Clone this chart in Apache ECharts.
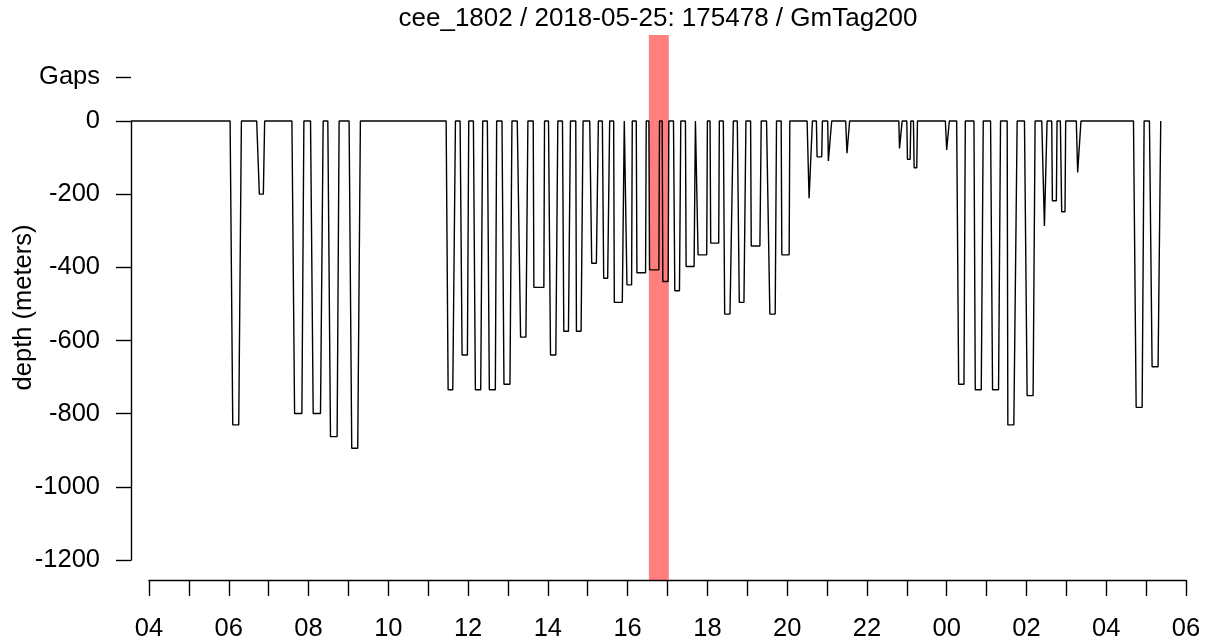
<!DOCTYPE html>
<html>
<head>
<meta charset="utf-8">
<script src="https://cdn.jsdelivr.net/npm/echarts@6/dist/echarts.min.js"></script>
<style>
html,body{margin:0;padding:0;background:#fff;}
#chart{width:1205px;height:644px;}
</style>
</head>
<body>
<div id="chart"></div>
<script>
// ---- data ----
const titleText = 'cee_1802 / 2018-05-25: 175478 / GmTag200';
const recordStart = '03:34';
const diveStart   = ['06:02','06:42','07:35','08:03','08:29','09:01','11:27','11:48','12:08','12:29','12:51','13:14','13:38','14:01','14:22','14:42','15:03','15:22','15:39','15:58','16:13','16:32','16:52','17:09','17:27','17:45','18:04','18:24','18:45','19:05','19:29','19:51','20:30','20:44','21:01','21:28','22:48','23:00','23:10','23:58','00:15','00:41','01:06','01:31','01:57','02:23','02:38','02:51','03:15','04:41','05:05'];
const bottomStart = ['06:06','06:46','07:39','08:07','08:33','09:05','11:30','11:51','12:11','12:32','12:54','13:19','13:39','14:04','14:24','14:43','15:06','15:24','15:40','15:59','16:14','16:33','16:53','17:11','17:28','17:46','18:05','18:26','18:48','19:06','19:34','19:52','20:33','20:45','21:02','21:30','22:49','23:01','23:11','00:00','00:18','00:43','01:09','01:32','02:01','02:27','02:39','02:53','03:17','04:45','05:09'];
const bottomEnd   = ['06:15','06:52','07:50','08:18','08:43','09:14','11:37','11:59','12:19','12:41','13:03','13:27','13:54','14:12','14:31','14:50','15:13','15:30','15:52','16:06','16:27','16:47','17:01','17:18','17:40','17:59','18:17','18:34','18:55','19:19','19:42','20:03','20:35','20:52','21:05','21:32','22:51','23:05','23:15','00:02','00:26','00:52','01:18','01:41','02:10','02:28','02:45','02:58','03:20','04:54','05:18'];
const diveEnd     = ['06:19','06:54','07:53','08:22','08:46','09:18','11:41','12:01','12:22','12:43','13:06','13:30','13:55','14:15','14:34','14:53','15:16','15:33','15:55','16:07','16:28','16:48','17:02','17:20','17:42','18:00','18:18','18:39','18:58','19:21','19:44','20:04','20:38','20:53','21:07','21:34','22:53','23:06','23:16','00:04','00:28','00:55','01:21','01:46','02:13','02:31','02:46','02:59','03:22','04:57','05:22'];
const diveDepth   = [-831,-200,-800,-800,-863,-895,-735,-640,-735,-735,-720,-591,-455,-640,-575,-575,-389,-430,-496,-448,-415,-407,-439,-464,-398,-366,-334,-528,-496,-342,-528,-366,-211,-98,-109,-88,-75,-105,-128,-79,-720,-735,-735,-831,-751,-287,-218,-248,-141,-783,-672];
const highlightWindow = ['16:32','17:02'];
const depthTicks = [0,-200,-400,-600,-800,-1000,-1200];
const gapsLevel = 120;
const gapsLabel = 'Gaps';
const axisStartHour = 4;   // 04:00 on 2018-05-25
const axisEndHour = 30;    // 06:00 on 2018-05-26

// ---- build series (hours since 2018-05-25 00:00, with day rollover) ----
function makeParser(){
  let offset = 0, last = -Infinity;
  return function(s){
    const p = s.split(':').map(Number);
    let v = p[0] + p[1]/60 + offset;
    if (v < last - 1e-9) { offset += 24; v += 24; }
    last = v;
    return v;
  };
}
const parse = makeParser();
const lineData = [[parse(recordStart), 0]];
for (let i = 0; i < diveStart.length; i++) {
  lineData.push([parse(diveStart[i]), 0]);
  lineData.push([parse(bottomStart[i]), diveDepth[i]]);
  lineData.push([parse(bottomEnd[i]), diveDepth[i]]);
  lineData.push([parse(diveEnd[i]), 0]);
}
const hp = makeParser();
const hl = highlightWindow.map(hp);

const FONT = 'Liberation Sans, Arial, sans-serif';
const pxPerHour = (1186 - 149) / (axisEndHour - axisStartHour);
const dataXMin = axisStartHour - (149 - 131) / pxPerHour;

function pad(n){ return (n < 10 ? '0' : '') + n; }

const chart = echarts.init(document.getElementById('chart'), null, {renderer: 'canvas'});
chart.setOption({
  animation: false,
  backgroundColor: '#fff',
  title: {
    text: titleText,
    left: 653,
    textAlign: 'center',
    top: 1,
    textStyle: {fontFamily: FONT, fontSize: 26, fontWeight: 'normal', color: '#000'}
  },
  grid: [
    {left: 131, right: 19, top: 35, bottom: 64, outerBoundsMode: 'none', containLabel: false},
    {left: 131, right: 19, top: 121, bottom: 84, outerBoundsMode: 'none', containLabel: false},
    {left: 149, right: 19, top: 35, bottom: 64, outerBoundsMode: 'none', containLabel: false}
  ],
  xAxis: [
    {gridIndex: 0, type: 'value', min: dataXMin, max: axisEndHour, show: false},
    {gridIndex: 1, type: 'value', min: 0, max: 1, show: false},
    {gridIndex: 2, type: 'value', min: axisStartHour, max: axisEndHour, interval: 1,
     axisLine: {show: true, onZero: false, lineStyle: {color: '#000', width: 1.4}},
     axisTick: {show: true, length: 16, lineStyle: {color: '#000', width: 1.4}},
     splitLine: {show: false},
     axisLabel: {show: true, margin: 36, fontFamily: FONT, fontSize: 25.5, color: '#000',
       showMinLabel: true, showMaxLabel: true,
       formatter: v => (Math.round(v) % 2 === 0) ? pad(Math.round(v) % 24) : ''}
    }
  ],
  yAxis: [
    {gridIndex: 0, type: 'value', min: -1255.2, max: 235.2,
     axisLine: {show: false}, splitLine: {show: false},
     axisTick: {show: true, customValues: [gapsLevel], length: 15, lineStyle: {color: '#000', width: 1.4}},
     axisLabel: {show: true, customValues: [gapsLevel], formatter: () => gapsLabel, margin: 31,
       fontFamily: FONT, fontSize: 25.5, color: '#000'},
     name: 'depth (meters)', nameLocation: 'middle', nameGap: 94, nameMoveOverlap: false,
     nameTextStyle: {fontFamily: FONT, fontSize: 25.5, color: '#000'}
    },
    {gridIndex: 1, type: 'value', min: -1200, max: 0, interval: 200,
     axisLine: {show: true, onZero: false, lineStyle: {color: '#000', width: 1.4}},
     axisTick: {show: true, length: 15, lineStyle: {color: '#000', width: 1.4}},
     splitLine: {show: false},
     axisLabel: {show: true, margin: 31, fontFamily: FONT, fontSize: 25.5, color: '#000',
       customValues: depthTicks, formatter: v => String(v)}
    },
    {gridIndex: 2, type: 'value', show: false}
  ],
  series: [
    {type: 'line', xAxisIndex: 0, yAxisIndex: 0, data: lineData, showSymbol: false, symbol: 'none',
     lineStyle: {color: '#000', width: 1.4}, z: 2, silent: true},
    {type: 'line', xAxisIndex: 0, yAxisIndex: 0, data: [], z: 5, silent: true,
     markArea: {silent: true, itemStyle: {color: 'rgba(255,0,0,0.5)'},
       data: [[{xAxis: hl[0]}, {xAxis: hl[1]}]]}}
  ]
});
</script>
</body>
</html>
